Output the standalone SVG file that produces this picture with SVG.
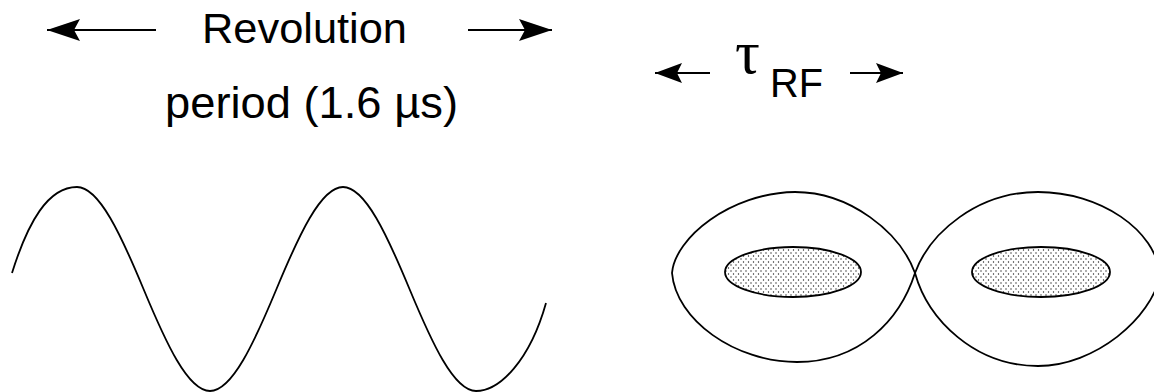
<svg xmlns="http://www.w3.org/2000/svg" width="1154" height="392" viewBox="0 0 1154 392">
<style>
.lbl{font-family:"Liberation Sans",Arial,sans-serif;fill:#000}
.grk{font-family:"Liberation Serif","DejaVu Serif",serif;fill:#000}
.ln{stroke:#000;stroke-width:2;fill:none}
.curve{stroke:#000;stroke-width:1.8;fill:none}
.core{stroke:#000;stroke-width:1.8;fill:url(#dots)}
</style>
<defs>
<marker id="ah" markerUnits="userSpaceOnUse" markerWidth="34" markerHeight="24" viewBox="0 0 34 24" refX="33" refY="12" orient="auto">
<path d="M0,1 L33,12 L0,23 L6,12 Z" fill="#000"/>
</marker>
<marker id="ah2" markerUnits="userSpaceOnUse" markerWidth="28" markerHeight="22" viewBox="0 0 28 22" refX="27" refY="11" orient="auto">
<path d="M0,1 L27,11 L0,21 L5,11 Z" fill="#000"/>
</marker>
<pattern id="dots" patternUnits="userSpaceOnUse" width="5" height="6">
<rect width="5" height="6" fill="#fff"/>
<circle cx="1" cy="1" r="0.7" fill="#222"/>
<circle cx="3.5" cy="4" r="0.7" fill="#222"/>
</pattern>
</defs>
<g id="labels">
<text id="revolution" class="lbl" x="202" y="43" font-size="42" textLength="205" lengthAdjust="spacingAndGlyphs">Revolution</text>
<text id="period" class="lbl" x="165" y="118" font-size="44" textLength="293" lengthAdjust="spacingAndGlyphs">period (1.6 µs)</text>
<text id="tau" class="grk" x="735" y="73" font-size="62">τ</text>
<text id="rf" class="lbl" x="770" y="97" font-size="41" textLength="53" lengthAdjust="spacingAndGlyphs">RF</text>
</g>
<g id="connectors">
<path class="ln" d="M156,30 H47" marker-end="url(#ah)"/>
<path class="ln" d="M468,30 H552" marker-end="url(#ah)"/>
<path class="ln" d="M710,73 H655" marker-end="url(#ah2)"/>
<path class="ln" d="M850,73 H903" marker-end="url(#ah2)"/>
</g>
<g id="rf-wave">
<path class="curve" d="M12,273 C28,222 48,187 77,187 C99.2,187 121.3,235.6 143.5,289 C165.7,342.4 187.8,391 210,391 C232.2,391 254.3,342.4 276.5,289 C298.7,235.6 320.8,187 343,187 C365.2,187 387.3,235.6 409.5,289 C431.7,342.4 453.8,391 476,391 C500,391 530,360 546,303"/>
</g>
<g id="bucket-left">
<path class="curve" d="M672,273 C675,238 730,193 795,192 C850,192 900,232 915,273 C900,320 860,362 797,362 C735,362 676,320 672,273 Z"/>
<ellipse class="core" cx="793" cy="272" rx="68" ry="25"/>
</g>
<g id="bucket-right">
<path class="curve" d="M915,273 C930,232 978,192 1038,192 C1100,192 1156,230 1160,275 C1152,318 1095,366 1038,366 C975,366 928,320 915,273 Z"/>
<ellipse class="core" cx="1041" cy="272" rx="69" ry="25"/>
</g>
</svg>
